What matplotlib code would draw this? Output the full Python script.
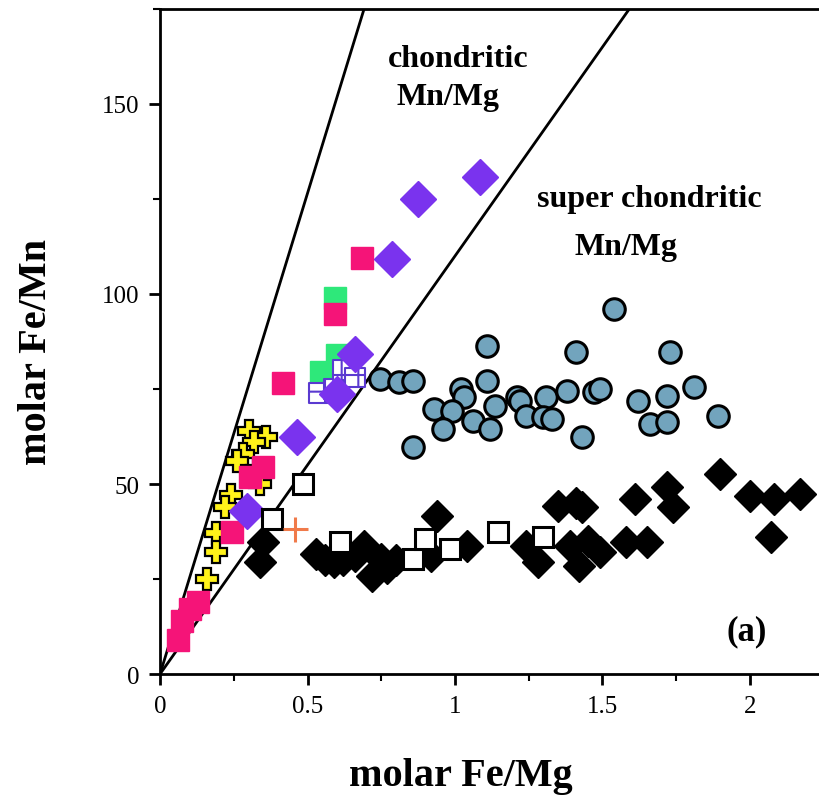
import numpy as np
import matplotlib
matplotlib.use("Agg")
import matplotlib.pyplot as plt
from matplotlib.ticker import MultipleLocator

# slopes of the two reference lines (Fe/Mn vs Fe/Mg)
line_slopes = [253, 110]

cross_x = [0.30, 0.36, 0.32, 0.28, 0.26, 0.33, 0.34, 0.24, 0.22, 0.19, 0.19, 0.16]
cross_y = [64, 62.5, 61, 58, 56, 54, 50, 47, 44, 37, 32, 25]

green_x = [0.593, 0.60, 0.545]
green_y = [99, 84, 79.5]

pink_x = [0.685, 0.593, 0.417, 0.35, 0.305, 0.244, 0.13, 0.10, 0.075, 0.06]
pink_y = [109.5, 94.7, 76.5, 54.5, 51.8, 37.4, 19, 17, 14, 9]

hatch_x = [0.54, 0.59, 0.62, 0.66]
hatch_y = [74, 75, 80, 78]

purple_x = [1.085, 0.875, 0.786, 0.66, 0.60, 0.464, 0.295]
purple_y = [130.8, 125, 109.2, 84.2, 73.7, 62.4, 42.9]

black_x = [0.35, 0.34, 0.53, 0.59, 0.62, 0.69, 0.72, 0.75, 0.66, 0.80, 0.94, 0.92,
           1.04, 1.24, 1.28, 1.35, 1.39, 1.41, 1.43, 1.42, 1.49, 1.45, 1.58, 1.65,
           1.61, 1.72, 1.74, 1.90, 2.00, 2.08, 2.17, 2.07, 0.56, 0.77]
black_y = [34.7, 29.5, 31.6, 29.5, 30, 33.7, 25.8, 30.3, 31, 30, 41.6, 31,
           33.7, 33.7, 29.5, 44.2, 33.7, 45, 44, 28.4, 32, 35, 34.7, 34.7,
           46, 49.2, 43.9, 52.6, 46.8, 46, 47.4, 36, 30, 28]

white_x = [0.485, 0.38, 0.61, 0.858, 0.898, 0.983, 1.146, 1.298]
white_y = [50, 40.8, 34.7, 30.3, 35.5, 32.9, 37.4, 36]

orange_x = [0.458]
orange_y = [38.2]

circle_x = [1.54, 1.11, 1.41, 0.746, 0.81, 0.858, 1.11, 1.02, 1.03, 0.93, 0.99, 1.135,
            1.21, 1.22, 1.31, 1.38, 1.47, 1.49, 1.62, 1.24, 1.30, 1.33, 0.96, 1.06,
            1.12, 1.43, 0.858, 1.73, 1.81, 1.72, 1.66, 1.72, 1.89]
circle_y = [96, 86.3, 84.7, 77.6, 76.8, 77, 77, 75, 73, 69.7, 69.2, 70.5,
            73, 71.8, 72.9, 74.5, 74.2, 75, 71.8, 67.9, 67.6, 67.1, 64.5, 66.6,
            64.5, 62.4, 59.7, 84.7, 75.5, 73.2, 65.8, 66.3, 67.9]

plt.rcParams['font.family'] = ['Liberation Serif', 'DejaVu Serif']
plt.rcParams['hatch.color'] = '#5a3ad0'
plt.rcParams['hatch.linewidth'] = 1.5

fig = plt.figure(figsize=(8.19, 8.04), dpi=100)
ax = fig.add_axes([0.1954, 0.1604, 0.8046, 0.8272])

xmax = 2.234
xs = np.array([0, xmax])
for k in line_slopes:
    ax.plot(xs, k * xs, color='black', lw=2.0, zorder=1)

ax.plot(cross_x, cross_y, 'P', ms=16, mfc='#fff21a', mec='black', mew=1.6, ls='none', zorder=2)
ax.plot(green_x, green_y, 's', ms=16, mfc='#2ee87a', mec='#2ee87a', ls='none', zorder=3)
ax.plot(pink_x, pink_y, 's', ms=16, mfc='#f51478', mec='#f51478', ls='none', zorder=4)
ax.scatter(hatch_x, hatch_y, marker='s', s=200, facecolor='white', edgecolor='#5a3ad0',
           linewidth=1.5, hatch='+', zorder=5)
ax.plot(purple_x, purple_y, 'D', ms=18, mfc='#7a33ee', mec='#7a33ee', ls='none', zorder=6)
ax.plot(black_x, black_y, 'D', ms=16, mfc='black', mec='black', ls='none', zorder=7)
ax.plot(white_x, white_y, 's', ms=14, mfc='white', mec='black', mew=2.2, ls='none', zorder=8)
ax.plot(orange_x, orange_y, '+', ms=18, mec='#f07a4a', mew=2.2, ls='none', zorder=8)
ax.plot(circle_x, circle_y, 'o', ms=15.5, mfc='#72a4bd', mec='black', mew=2.2, ls='none', zorder=9)

ax.text(1.01, 162, 'chondritic', fontsize=23, fontweight='bold', ha='center', va='center')
ax.text(0.975, 152, 'Mn/Mg', fontsize=23, fontweight='bold', ha='center', va='center')
ax.text(1.66, 125, 'super chondritic', fontsize=23, fontweight='bold', ha='center', va='center')
ax.text(1.58, 112.6, 'Mn/Mg', fontsize=23, fontweight='bold', ha='center', va='center')
ax.text(1.99, 11.3, '(a)', fontsize=25, fontweight='bold', ha='center', va='center')

ax.set_xlim(0, xmax)
ax.set_ylim(0, 175)
ax.xaxis.set_major_locator(MultipleLocator(0.5))
ax.xaxis.set_minor_locator(MultipleLocator(0.25))
ax.yaxis.set_major_locator(MultipleLocator(50))
ax.yaxis.set_minor_locator(MultipleLocator(25))
ax.set_xticks([0, 0.5, 1, 1.5, 2])
ax.set_xticklabels(['0', '0.5', '1', '1.5', '2'])
ax.tick_params(which='major', length=8, width=2, labelsize=18, pad=7)
ax.tick_params(which='minor', length=5, width=1.5)
ax.spines['right'].set_visible(False)
for s in ['left', 'bottom', 'top']:
    ax.spines[s].set_linewidth(2)

ax.set_xlabel('molar Fe/Mg', fontsize=29, fontweight='bold')
ax.set_ylabel('molar Fe/Mn', fontsize=29, fontweight='bold')
ax.xaxis.set_label_coords(0.457, -0.125)
ax.yaxis.set_label_coords(-0.16, 0.485)

fig.savefig('out.png', dpi=100)
